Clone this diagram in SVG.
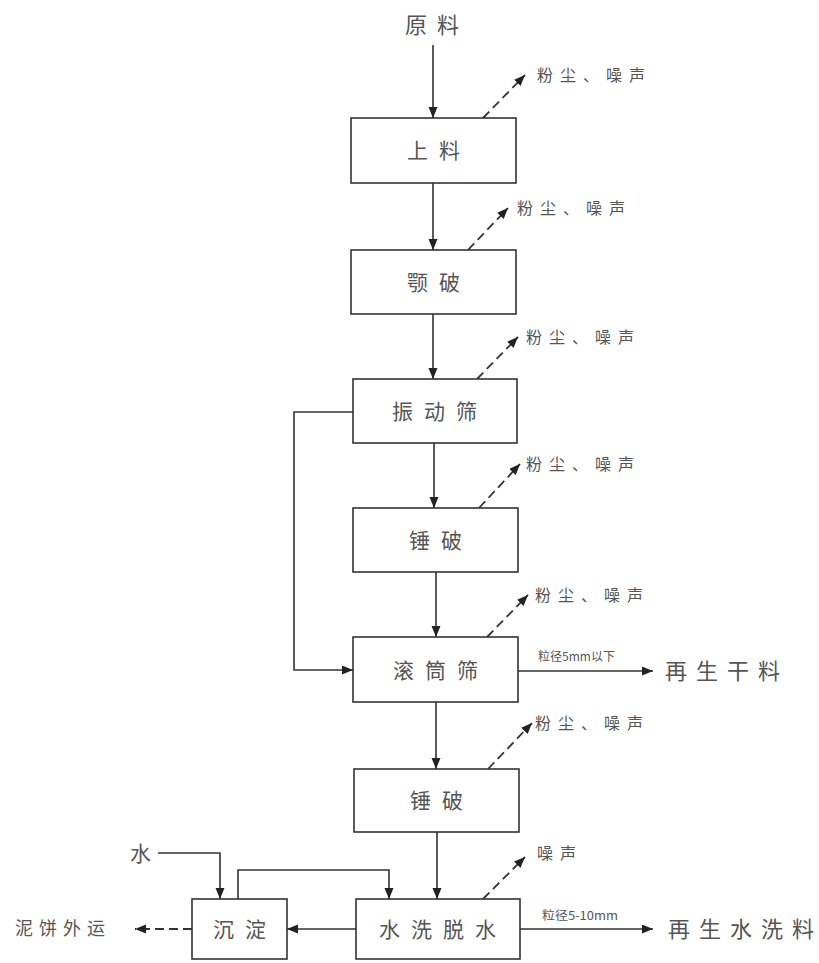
<svg xmlns="http://www.w3.org/2000/svg" width="819" height="963" viewBox="0 0 819 963">
<style>
.box{fill:#fff;stroke:#333;stroke-width:1.6}
.ln{fill:none;stroke:#333;stroke-width:1.6}
.ds{fill:none;stroke:#333;stroke-width:1.8;stroke-dasharray:9 5}
text{font-family:"Noto Sans CJK SC","Noto Sans",sans-serif;fill:#555}
.bl{font-size:21px;letter-spacing:11px;text-anchor:middle}
.em{font-size:16px;letter-spacing:7px}
.big{font-size:22px}
.sm{font-size:12px}
</style>
<defs>
<marker id="ah" markerUnits="userSpaceOnUse" markerWidth="12" markerHeight="10" refX="11" refY="4.5" orient="auto">
<path d="M0,0 L11,4.5 L0,9 z" fill="#222"/>
</marker>
</defs>
<rect width="819" height="963" fill="#fff"/>
<g id="connectors">
<path class="ln" d="M433,45 V118" marker-end="url(#ah)"/>
<path class="ln" d="M433,183 V250" marker-end="url(#ah)"/>
<path class="ln" d="M433,314 V379" marker-end="url(#ah)"/>
<path class="ln" d="M434,443 V508" marker-end="url(#ah)"/>
<path class="ln" d="M436,572 V637" marker-end="url(#ah)"/>
<path class="ln" d="M436,702 V769" marker-end="url(#ah)"/>
<path class="ln" d="M437,832 V899" marker-end="url(#ah)"/>
<path class="ln" d="M353,412 H294 V670 H353" marker-end="url(#ah)"/>
<path class="ln" d="M518,671 H653" marker-end="url(#ah)"/>
<path class="ln" d="M520,929 H653" marker-end="url(#ah)"/>
<path class="ln" d="M356,929 H287" marker-end="url(#ah)"/>
<path class="ds" d="M192,929 H135" marker-end="url(#ah)"/>
<path class="ln" d="M158,853 H220 V899" marker-end="url(#ah)"/>
<path class="ln" d="M238,899 V870 H389 V899" marker-end="url(#ah)"/>
<path class="ds" d="M483,118 L525,75" marker-end="url(#ah)"/>
<path class="ds" d="M468,250 L508,208" marker-end="url(#ah)"/>
<path class="ds" d="M477,379 L518,337" marker-end="url(#ah)"/>
<path class="ds" d="M479,508 L520,464" marker-end="url(#ah)"/>
<path class="ds" d="M487,637 L528,595" marker-end="url(#ah)"/>
<path class="ds" d="M488,769 L532,723" marker-end="url(#ah)"/>
<path class="ds" d="M483,899 L525,857" marker-end="url(#ah)"/>
<text class="sm" x="538" y="661" textLength="77" lengthAdjust="spacingAndGlyphs">粒径5mm以下</text>
<text class="sm" x="542" y="920" textLength="76" lengthAdjust="spacingAndGlyphs">粒径5-10mm</text>
</g>
<g id="n-raw"><text class="big" x="405" y="33" textLength="54">原料</text></g>
<g id="n-shangliao"><rect class="box" x="351" y="118" width="165" height="65"/><text class="bl" x="439" y="158">上料</text></g>
<g id="n-epo"><rect class="box" x="351" y="250" width="165" height="64"/><text class="bl" x="439" y="290">颚破</text></g>
<g id="n-zdshai"><rect class="box" x="353" y="379" width="164" height="64"/><text class="bl" x="440" y="419">振动筛</text></g>
<g id="n-chuipo1"><rect class="box" x="353" y="508" width="165" height="64"/><text class="bl" x="441" y="548">锤破</text></g>
<g id="n-gtshai"><rect class="box" x="353" y="637" width="165" height="65"/><text class="bl" x="441" y="678">滚筒筛</text></g>
<g id="n-chuipo2"><rect class="box" x="354" y="769" width="165" height="63"/><text class="bl" x="442" y="808">锤破</text></g>
<g id="n-chendian"><rect class="box" x="192" y="899" width="95" height="60"/><text class="bl" x="245" y="937">沉淀</text></g>
<g id="n-shuixi"><rect class="box" x="356" y="899" width="164" height="60"/><text class="bl" x="443" y="937">水洗脱水</text></g>
<g id="n-water"><text x="130" y="861" style="font-size:21px">水</text></g>
<g id="n-nibing"><text x="15" y="935" style="font-size:18px" textLength="90">泥饼外运</text></g>
<g id="n-gan"><text class="big" x="665" y="679" textLength="115">再生干料</text></g>
<g id="n-shuixiliao"><text class="big" x="668" y="937" textLength="146">再生水洗料</text></g>
<g id="e1"><text class="em" x="537" y="81">粉尘、噪声</text></g>
<g id="e2"><text class="em" x="517" y="214">粉尘、噪声</text></g>
<g id="e3"><text class="em" x="526" y="343">粉尘、噪声</text></g>
<g id="e4"><text class="em" x="526" y="470">粉尘、噪声</text></g>
<g id="e5"><text class="em" x="535" y="601">粉尘、噪声</text></g>
<g id="e6"><text class="em" x="535" y="729">粉尘、噪声</text></g>
<g id="e7"><text class="em" x="537" y="859">噪声</text></g>
</svg>
